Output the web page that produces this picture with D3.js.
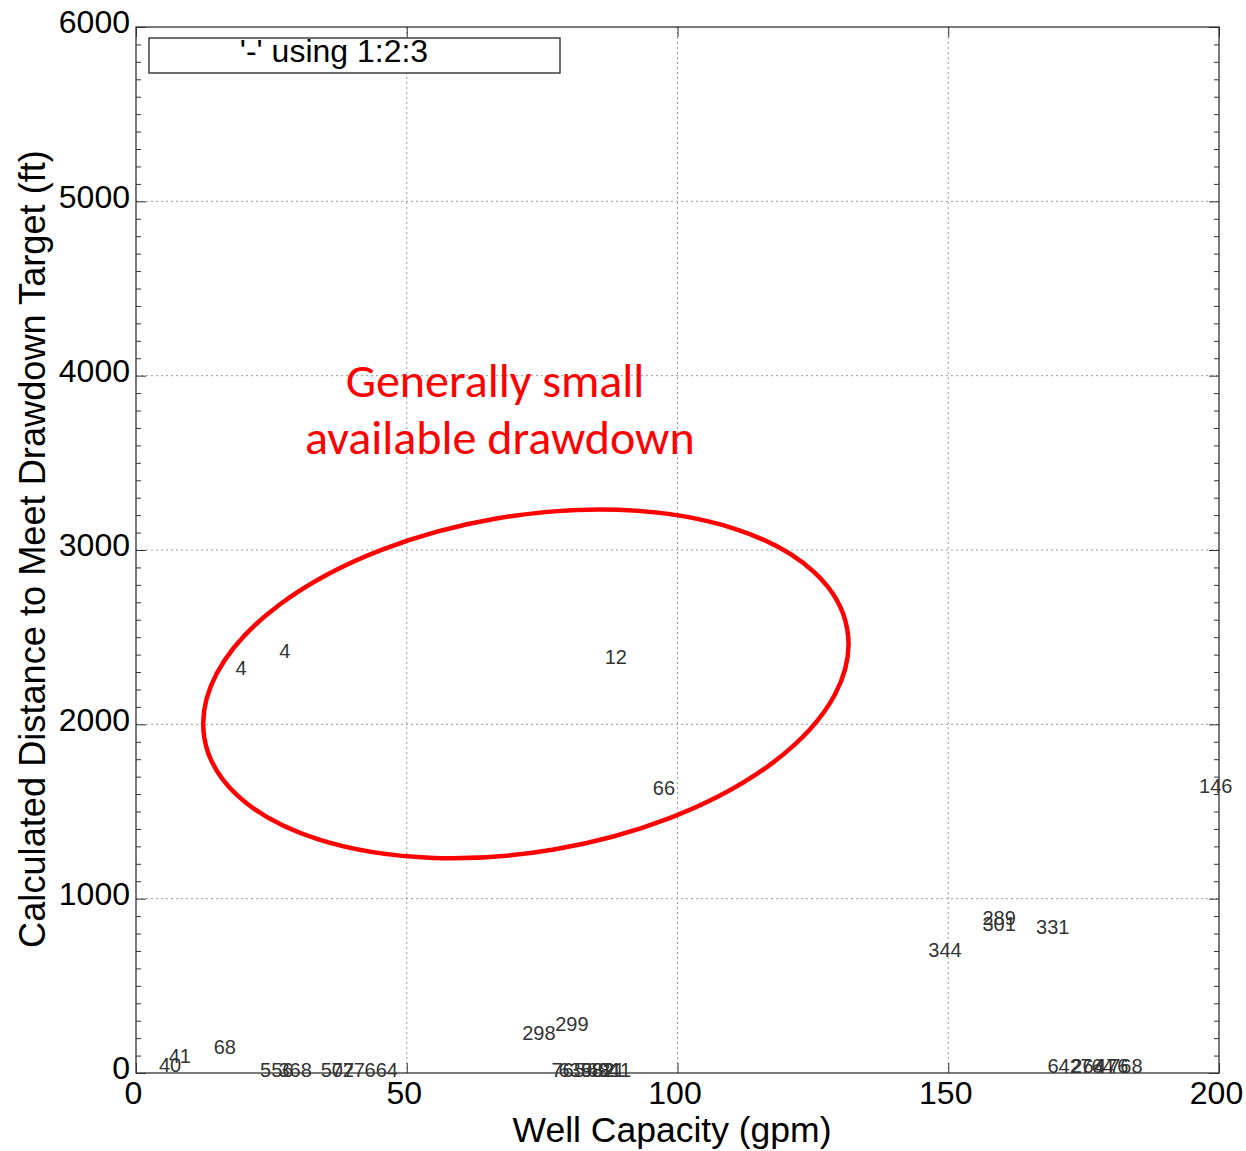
<!DOCTYPE html>
<html>
<head>
<meta charset="utf-8">
<script src="https://cdn.jsdelivr.net/npm/d3@7"></script>
<style>
  body { margin: 0; background: #fff; }
  svg { display: block; }
</style>
</head>
<body>
<div id="chart"></div>
<script>
// point labels (well ids) with their capacity / distance
const labels = ['40', '41', '68', '4', '4', '12', '66', '146',
  '556', '368', '507', '727', '664',
  '298', '299', '765', '635', '982', '694', '821', '811',
  '344', '289', '301', '331',
  '642', '264', '764', '476', '768']
const capacity = [6.3, 8.1, 16.4, 19.4, 27.5, 88.6, 97.5, 199.4,
  26.0, 29.4, 37.2, 39.2, 45.3,
  74.4, 80.5, 79.8, 81.1, 85.3, 86.3, 87.2, 88.5,
  149.4, 159.4, 159.4, 169.3,
  171.4, 175.8, 177.5, 180.2, 182.8]
const distance = [46, 97, 149, 2324, 2421, 2387, 1635, 1647,
  15, 15, 15, 15, 15,
  229, 281, 17, 17, 17, 17, 17, 17,
  706, 889, 855, 838,
  40, 40, 40, 40, 40]

const xTicks = [0, 50, 100, 150, 200]
const yTicks = [0, 1000, 2000, 3000, 4000, 5000, 6000]
const yMinorTicks = d3.range(0, 6001, 100).filter(v => v % 1000 !== 0)

// red hand-drawn annotation
const noteLines = ['Generally small', 'available drawdown']
const noteX = [66.3, 67.2]
const noteY = [3970, 3643]
const ellipseCenter = [72.0, 2232]

const margin = {
  top: 27, right: 27, bottom: 78, left: 136
}
const width = 1246 - margin.left - margin.right
const height = 1151 - margin.top - margin.bottom

const root = d3.select('#chart')
  .append('svg')
  .attr('width', 1246)
  .attr('height', 1151)
  .attr('font-family', '"Liberation Sans", Arial, sans-serif')

const svg = root.append('g')
  .attr('transform', `translate(${margin.left},${margin.top})`)

const xScale = d3.scaleLinear().domain([0, 200]).range([0, width])
const yScale = d3.scaleLinear().domain([0, 6000]).range([height, 0])

// grid
svg.append('g')
  .selectAll('line')
  .data(xTicks.slice(1, -1))
  .enter()
  .append('line')
  .attr('x1', d => xScale(d))
  .attr('x2', d => xScale(d))
  .attr('y1', 0)
  .attr('y2', height)
  .attr('stroke', '#9a9a9a')
  .attr('stroke-dasharray', '2,3')

svg.append('g')
  .selectAll('line')
  .data(yTicks.slice(1, -1))
  .enter()
  .append('line')
  .attr('y1', d => yScale(d))
  .attr('y2', d => yScale(d))
  .attr('x1', 0)
  .attr('x2', width)
  .attr('stroke', '#9a9a9a')
  .attr('stroke-dasharray', '2,3')

// axes, ticks pointing inwards on all four sides
const styleAxis = g => {
  g.select('.domain').remove()
  g.selectAll('line').attr('stroke', '#333')
}

svg.append('g')
  .attr('transform', `translate(0,${height})`)
  .call(d3.axisBottom(xScale).tickValues(xTicks).tickSizeInner(-10).tickSizeOuter(0).tickPadding(8))
  .call(styleAxis)
  .call(g => g.selectAll('text')
    .attr('font-size', 32)
    .attr('font-family', '"Liberation Sans", Arial, sans-serif')
    .attr('fill', '#000')
    .attr('dx', -3))

svg.append('g')
  .call(d3.axisTop(xScale).tickValues(xTicks).tickSizeInner(-10).tickSizeOuter(0).tickFormat(''))
  .call(styleAxis)

svg.append('g')
  .call(d3.axisLeft(yScale).tickValues(yTicks).tickSizeInner(-10).tickSizeOuter(0).tickPadding(6)
    .tickFormat(d3.format('d')))
  .call(styleAxis)
  .call(g => g.selectAll('text')
    .attr('font-size', 32)
    .attr('font-family', '"Liberation Sans", Arial, sans-serif')
    .attr('fill', '#000')
    .attr('dy', '0.18em'))

svg.append('g')
  .call(d3.axisLeft(yScale).tickValues(yMinorTicks).tickSizeInner(-5).tickSizeOuter(0).tickFormat(''))
  .call(styleAxis)

svg.append('g')
  .attr('transform', `translate(${width},0)`)
  .call(d3.axisRight(yScale).tickValues(yTicks).tickSizeInner(-10).tickSizeOuter(0).tickFormat(''))
  .call(styleAxis)

svg.append('g')
  .attr('transform', `translate(${width},0)`)
  .call(d3.axisRight(yScale).tickValues(yMinorTicks).tickSizeInner(-5).tickSizeOuter(0).tickFormat(''))
  .call(styleAxis)

// frame
svg.append('rect')
  .attr('width', width)
  .attr('height', height)
  .attr('fill', 'none')
  .attr('stroke', '#333')
  .attr('stroke-width', 1.3)

// key box
svg.append('rect')
  .attr('x', 13)
  .attr('y', 11)
  .attr('width', 411)
  .attr('height', 35)
  .attr('fill', '#fff')
  .attr('stroke', '#222')
  .attr('stroke-width', 1.3)

svg.append('text')
  .attr('x', 198)
  .attr('y', 24)
  .attr('text-anchor', 'middle')
  .attr('dominant-baseline', 'central')
  .attr('font-size', 32)
  .attr('fill', '#000')
  .text("'-' using 1:2:3")

// point labels
svg.append('g')
  .selectAll('text')
  .data(labels)
  .enter()
  .append('text')
  .attr('x', (d, i) => xScale(capacity[i]))
  .attr('y', (d, i) => yScale(distance[i]))
  .attr('text-anchor', 'middle')
  .attr('dominant-baseline', 'central')
  .attr('font-size', 20)
  .attr('fill', '#333')
  .text(d => d)

// annotation
svg.append('ellipse')
  .attr('cx', 0)
  .attr('cy', 0)
  .attr('rx', 326)
  .attr('ry', 168)
  .attr('transform', `translate(${xScale(ellipseCenter[0])},${yScale(ellipseCenter[1])}) rotate(-9.6)`)
  .attr('fill', 'none')
  .attr('stroke', '#ff0000')
  .attr('stroke-width', 4.5)

svg.append('g')
  .selectAll('text')
  .data(noteLines)
  .enter()
  .append('text')
  .attr('x', (d, i) => xScale(noteX[i]))
  .attr('y', (d, i) => yScale(noteY[i]))
  .attr('text-anchor', 'middle')
  .attr('dominant-baseline', 'central')
  .attr('font-family', 'Carlito, Lato, "Open Sans", sans-serif')
  .attr('font-size', 48)
  .attr('fill', '#ff0000')
  .text(d => d)

// axis titles
root.append('text')
  .attr('x', 672)
  .attr('y', 1130)
  .attr('text-anchor', 'middle')
  .attr('dominant-baseline', 'central')
  .attr('font-size', 35.5)
  .attr('fill', '#000')
  .text('Well Capacity (gpm)')

root.append('text')
  .attr('transform', 'translate(32,549) rotate(-90)')
  .attr('text-anchor', 'middle')
  .attr('dominant-baseline', 'central')
  .attr('font-size', 36.2)
  .attr('fill', '#000')
  .text('Calculated Distance to Meet Drawdown Target (ft)')
</script>
</body>
</html>
